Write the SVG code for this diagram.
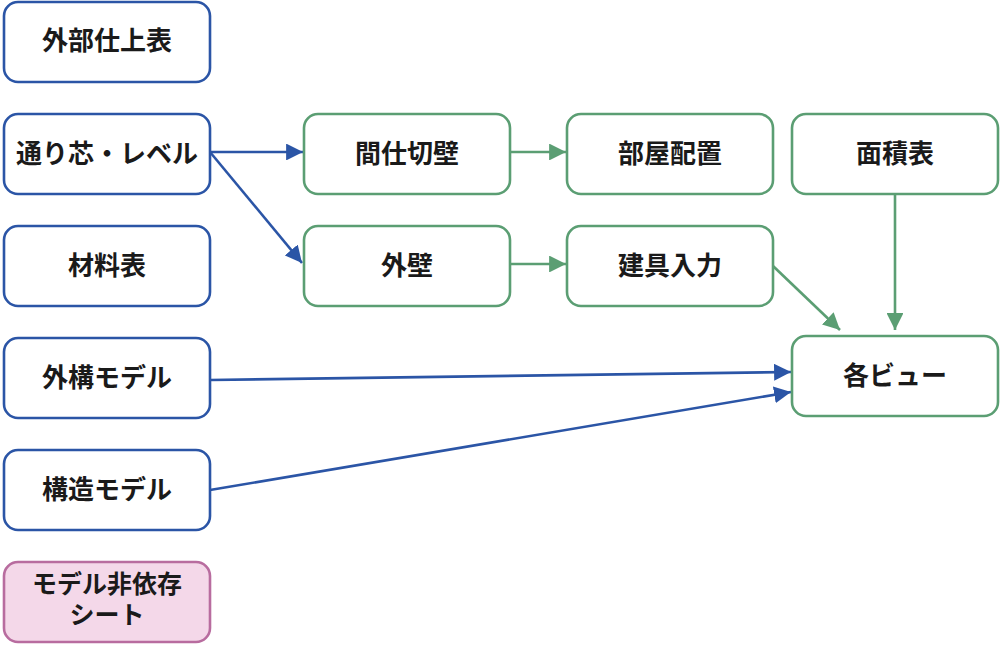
<svg xmlns="http://www.w3.org/2000/svg" width="1000" height="650" viewBox="0 0 1000 650">
<defs>
<style>
.b{fill:#fff;stroke:#2b55a6;stroke-width:2.6}
.g{fill:#fff;stroke:#5b9e73;stroke-width:2.6}
.p{fill:#f4d8e9;stroke:#b86c9f;stroke-width:2.6}
text{font-family:"Noto Sans CJK JP","Noto Sans",sans-serif;font-weight:700;font-size:26px;fill:#1a1a1a;text-anchor:middle;dominant-baseline:central}
.s{font-size:25px}
.cb{stroke:#2b55a6;stroke-width:2.6;fill:none;marker-end:url(#ab)}
.cg{stroke:#5b9e73;stroke-width:2.6;fill:none;marker-end:url(#ag)}
</style>
<marker id="ab" viewBox="0 0 10 10" refX="10" refY="5" markerWidth="6.5" markerHeight="6.5" markerUnits="strokeWidth" orient="auto"><path d="M0,0L10,5L0,10z" fill="#2b55a6"/></marker>
<marker id="ag" viewBox="0 0 10 10" refX="10" refY="5" markerWidth="6.5" markerHeight="6.5" markerUnits="strokeWidth" orient="auto"><path d="M0,0L10,5L0,10z" fill="#5b9e73"/></marker>
</defs>
<rect width="1000" height="650" fill="#fff"/>
<g id="connectors">
<line class="cb" x1="210" y1="152" x2="303" y2="152"/>
<line class="cb" x1="210" y1="152" x2="302" y2="263"/>
<line class="cg" x1="510" y1="152" x2="566" y2="152"/>
<line class="cg" x1="510" y1="264" x2="566" y2="264"/>
<line class="cg" x1="773" y1="266" x2="840" y2="330"/>
<line class="cg" x1="895" y1="194" x2="895" y2="330"/>
<line class="cb" x1="210" y1="380" x2="791" y2="372"/>
<line class="cb" x1="210" y1="490" x2="791" y2="392"/>
</g>
<g id="n1"><rect class="b" x="4" y="2" width="206" height="80" rx="14"/><text x="107" y="38">外部仕上表</text></g>
<g id="n2"><rect class="b" x="4" y="114" width="206" height="80" rx="14"/><text x="107" y="151">通り芯・レベル</text></g>
<g id="n3"><rect class="b" x="4" y="226" width="206" height="80" rx="14"/><text x="107" y="263">材料表</text></g>
<g id="n4"><rect class="b" x="4" y="338" width="206" height="80" rx="14"/><text x="107" y="375">外構モデル</text></g>
<g id="n5"><rect class="b" x="4" y="450" width="206" height="80" rx="14"/><text x="107" y="487">構造モデル</text></g>
<g id="n6"><rect class="p" x="4" y="562" width="206" height="80" rx="14"/><text class="s" x="107" y="582">モデル非依存</text><text class="s" x="107" y="613">シート</text></g>
<g id="n7"><rect class="g" x="304" y="114" width="206" height="80" rx="14"/><text x="407" y="151">間仕切壁</text></g>
<g id="n8"><rect class="g" x="304" y="226" width="206" height="80" rx="14"/><text x="407" y="263">外壁</text></g>
<g id="n9"><rect class="g" x="567" y="114" width="206" height="80" rx="14"/><text x="670" y="151">部屋配置</text></g>
<g id="n10"><rect class="g" x="567" y="226" width="206" height="80" rx="14"/><text x="670" y="263">建具入力</text></g>
<g id="n11"><rect class="g" x="792" y="114" width="206" height="80" rx="14"/><text x="895" y="151">面積表</text></g>
<g id="n12"><rect class="g" x="792" y="336" width="206" height="80" rx="14"/><text x="895" y="373">各ビュー</text></g>
</svg>
